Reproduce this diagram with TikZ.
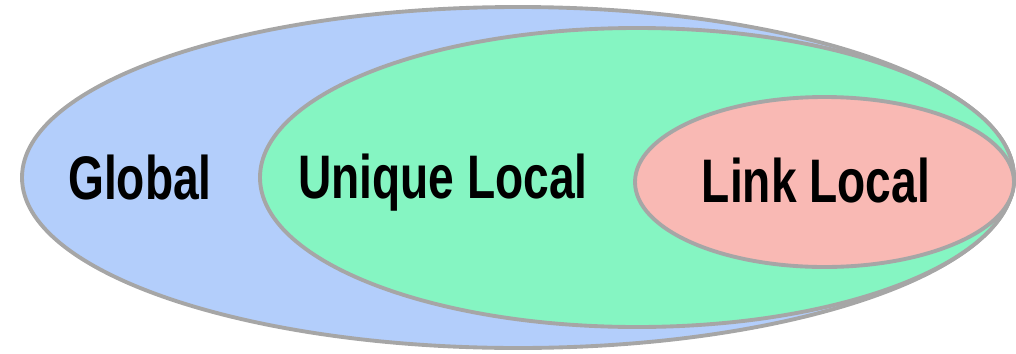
\documentclass[tikz,border=0pt]{standalone}
\usepackage{fontspec}
\newfontfamily\labelfont{Liberation Sans}[FakeStretch=0.75]
\usetikzlibrary{positioning}
\definecolor{globalblue}{RGB}{179,206,251}
\definecolor{uniquegreen}{RGB}{133,245,194}
\definecolor{linkred}{RGB}{249,185,180}
\definecolor{rimgray}{RGB}{166,166,166}
\begin{document}
\begin{tikzpicture}[
    scope/.style={draw=rimgray, line width=2.2pt},
    lbl/.style={font=\labelfont\bfseries\fontsize{35}{40}\selectfont, anchor=base, inner sep=0pt},
  ]
    \useasboundingbox (0,0) rectangle (20.32,7.06);
    % address scopes
    \draw[scope, fill=globalblue]  (10.36,3.51) ellipse [x radius=9.92, y radius=3.41];
    \draw[scope, fill=uniquegreen] (12.74,3.51) ellipse [x radius=7.54, y radius=2.99];
    \draw[scope, fill=linkred]     (16.49,3.42) ellipse [x radius=3.79, y radius=1.70];
    % labels
    \node[lbl] (global) at (2.80,3.08) {Global};
    \node[lbl] (unique) at (8.86,3.10) {Unique Local};
    \node[lbl] (link)   at (16.32,3.02) {Link Local};
  \end{tikzpicture}
\end{document}
